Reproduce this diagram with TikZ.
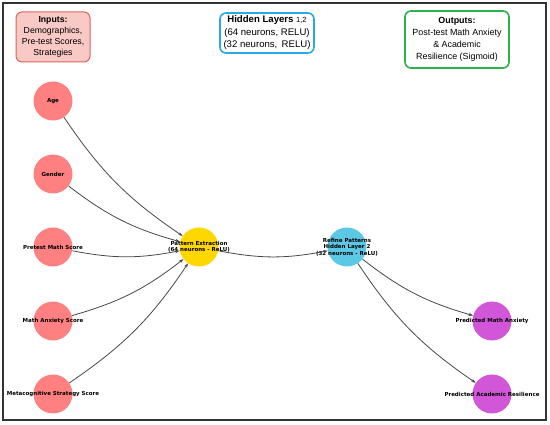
\documentclass[tikz,border=0pt]{standalone}
\usepackage{fontspec}
\setmainfont{Liberation Sans}
\newfontfamily\dejavu{DejaVu Sans}
\usetikzlibrary{arrows.meta}
\definecolor{inred}{HTML}{FF8080}
\definecolor{hidgold}{HTML}{FFD700}
\definecolor{hidblue}{HTML}{5BC8E6}
\definecolor{outpurple}{HTML}{D157D8}
\definecolor{linkgray}{HTML}{484848}
\definecolor{framegray}{HTML}{333333}
\definecolor{boxpink}{HTML}{F9C9C5}
\definecolor{boxred}{HTML}{E2605A}
\definecolor{boxblue}{HTML}{27A9E1}
\definecolor{boxgreen}{HTML}{2BB24C}
\begin{document}
\begin{tikzpicture}[x=1pt,y=1pt,
  neuron/.style={circle, minimum size=39pt, inner sep=0pt},
  lbl/.style={font=\dejavu\bfseries\fontsize{5.5}{6.3}\selectfont, align=center, inner sep=0pt, text=black},
  link/.style={draw=linkgray, line width=0.8pt, -{Stealth[length=4.5pt,width=3.2pt]}, bend right=11},
  head/.style={rounded corners=6pt, line width=1.6pt, align=center, inner sep=0pt}]
\useasboundingbox (0,0) rectangle (550,-425);
\draw[framegray, line width=1.5pt] (3,-3) rectangle (546,-420);

% legend boxes
\node[head, draw=boxred, fill=boxpink, line width=1pt, minimum width=74pt, minimum height=50pt,
  font=\fontsize{8.7}{11}\selectfont] (inbox) at (53,-37)
{\textbf{Inputs:}\\Demographics,\\Pre-test Scores,\\Strategies};
\node[head, draw=boxblue, fill=white, minimum width=94pt, minimum height=40pt,
  font=\fontsize{9.6}{12.5}\selectfont] (hidbox) at (267,-33)
{\textbf{Hidden Layers} {\fontsize{7.5}{9}\selectfont 1,2}\\(64 neurons, RELU)\\(32 neurons,\ \,RELU)};
\node[head, draw=boxgreen, fill=white, minimum width=104pt, minimum height=57pt,
  font=\fontsize{8.9}{11.8}\selectfont] (outbox) at (457,-39.5)
{\textbf{Outputs:}\\Post-test Math Anxiety\\\& Academic\\Resilience (Sigmoid)};

% input layer
\node[neuron, fill=inred, label={[lbl]center:Age}] (age) at (53,-101) {};
\node[neuron, fill=inred, label={[lbl]center:Gender}] (gender) at (53,-174) {};
\node[neuron, fill=inred, label={[lbl]center:Pretest Math Score}] (pretest) at (53,-247) {};
\node[neuron, fill=inred, label={[lbl]center:Math Anxiety Score}] (anxiety) at (53,-321) {};
\node[neuron, fill=inred, label={[lbl]center:Metacognitive Strategy Score}] (metacog) at (53,-394) {};

% hidden layers
\node[neuron, fill=hidgold, label={[lbl]center:Pattern Extraction\\(64 neurons - ReLU)}] (pattern) at (199,-247) {};
\node[neuron, fill=hidblue, label={[lbl]center:Refine Patterns\\Hidden Layer 2\\(32 neurons - ReLU)}] (refine) at (347,-247) {};

% output layer
\node[neuron, fill=outpurple, label={[lbl]center:Predicted Math Anxiety}] (predanx) at (492,-321) {};
\node[neuron, fill=outpurple, label={[lbl]center:Predicted Academic Resilience}] (predres) at (492,-394) {};

\draw[link] (age) to (pattern);
\draw[link] (gender) to (pattern);
\draw[link] (pretest) to (pattern);
\draw[link] (anxiety) to (pattern);
\draw[link] (metacog) to (pattern);
\draw[link] (pattern) to (refine);
\draw[link] (refine) to (predanx);
\draw[link] (refine) to (predres);
\end{tikzpicture}
\end{document}
